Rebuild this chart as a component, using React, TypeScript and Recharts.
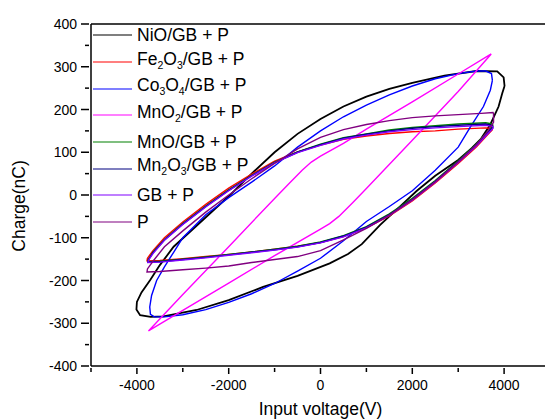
import React from "react";
import { LineChart, Line, XAxis, YAxis, ReferenceLine, Legend } from "recharts";

type Pt = [number, number];

// loops, [voltage (V), charge (nC)]
const nioLoop: Pt[] = [
  [4010, 255], [3990, 275], [3850, 289], [3400, 290], [2700, 279], [2000, 262],
  [1500, 248], [1000, 230], [500, 207], [0, 178], [-500, 143], [-1000, 100],
  [-1500, 50], [-2000, -3], [-2700, -72], [-3200, -121], [-3500, -164],
  [-3710, -199], [-3900, -228], [-4000, -250], [-4010, -268], [-3930, -281],
  [-3700, -285], [-3420, -284], [-2700, -269], [-2000, -246], [-1250, -215],
  [-500, -189], [200, -160], [600, -138], [900, -115], [1300, -70], [1700, -30],
  [2100, 10], [2500, 45], [3000, 82], [3300, 110], [3500, 132], [3700, 165],
  [3880, 207], [3960, 238], [4010, 255],
];

const fe2o3Loop: Pt[] = [
  [3740, 155], [3600, 157], [3000, 154], [2500, 150], [2000, 148], [1500, 144],
  [1000, 138], [500, 130], [0, 117], [-500, 101], [-1000, 79], [-1500, 49],
  [-2000, 16], [-2500, -22], [-3000, -63], [-3400, -100], [-3650, -130],
  [-3770, -148], [-3780, -154], [-3500, -153], [-3000, -149], [-2500, -144],
  [-2000, -139], [-1500, -133], [-1000, -127], [-500, -120], [0, -111],
  [500, -97], [1000, -77], [1500, -49], [2000, -14], [2500, 28], [3000, 74],
  [3400, 113], [3650, 142], [3740, 152], [3740, 155],
];

const co3o4Loop: Pt[] = [
  [3745, 268], [3725, 284], [3600, 290], [3400, 290], [3000, 284], [2500, 272],
  [2000, 255], [1500, 234], [1000, 210], [500, 183], [0, 150], [-500, 112],
  [-1000, 68], [-1500, 30], [-2000, -6], [-2500, -46], [-3000, -100],
  [-3200, -134], [-3400, -168], [-3570, -200], [-3680, -235], [-3720, -262],
  [-3705, -279], [-3620, -285], [-3400, -285], [-3000, -280], [-2500, -268],
  [-2000, -251], [-1500, -231], [-1000, -207], [-500, -178], [0, -148],
  [500, -107], [1000, -62], [1500, -27], [2000, 10], [2500, 58], [3000, 112],
  [3260, 158], [3550, 207], [3700, 245], [3745, 268],
];

const mno2Loop: Pt[] = [
  [3720, 330], [3000, 283], [2000, 218], [1000, 154], [500, 121], [0, 91],
  [-200, 77], [-400, 58], [-700, 25], [-1000, -8], [-2000, -121],
  [-3000, -233], [-3748, -318], [-3000, -270], [-2000, -206], [-1000, -142],
  [0, -80], [200, -67], [400, -50], [700, -18], [1000, 15], [2000, 128],
  [3000, 242], [3720, 330],
];

const mnoLoop: Pt[] = [
  [3750, 166], [3600, 169], [3000, 166], [2500, 162], [2000, 158], [1500, 152],
  [1000, 143], [500, 134], [0, 119], [-500, 101], [-1000, 77], [-1500, 46],
  [-2000, 12], [-2500, -26], [-3000, -67], [-3400, -104], [-3650, -134],
  [-3750, -151], [-3760, -156], [-3500, -155], [-3000, -150], [-2500, -145],
  [-2000, -139], [-1500, -133], [-1000, -127], [-500, -120], [0, -110],
  [500, -95], [1000, -74], [1500, -44], [2000, -8], [2500, 34], [3000, 80],
  [3400, 120], [3650, 150], [3750, 160], [3750, 166],
];

const mn2o3Loop: Pt[] = [
  [3750, 163], [3600, 166], [3000, 163], [2500, 160], [2000, 156], [1500, 150],
  [1000, 142], [500, 133], [0, 118], [-500, 100], [-1000, 76], [-1500, 45],
  [-2000, 11], [-2500, -27], [-3000, -68], [-3400, -105], [-3650, -135],
  [-3750, -152], [-3760, -157], [-3500, -156], [-3000, -151], [-2500, -146],
  [-2000, -140], [-1500, -134], [-1000, -128], [-500, -121], [0, -111],
  [500, -96], [1000, -75], [1500, -46], [2000, -10], [2500, 32], [3000, 78],
  [3400, 118], [3650, 147], [3750, 158], [3750, 163],
];

const gbLoop: Pt[] = [
  [3760, 160], [3600, 163], [3000, 160], [2500, 157], [2000, 153], [1500, 148],
  [1000, 140], [500, 131], [0, 116], [-500, 99], [-1000, 75], [-1500, 44],
  [-2000, 10], [-2500, -28], [-3000, -69], [-3400, -106], [-3650, -137],
  [-3750, -153], [-3760, -158], [-3500, -157], [-3000, -152], [-2500, -147],
  [-2000, -141], [-1500, -135], [-1000, -129], [-500, -122], [0, -112],
  [500, -98], [1000, -77], [1500, -48], [2000, -12], [2500, 30], [3000, 76],
  [3400, 115], [3650, 144], [3760, 156], [3760, 160],
];

const pLoop: Pt[] = [
  [3770, 193], [3500, 191], [3000, 188], [2500, 185], [2000, 181], [1500, 174],
  [1000, 165], [500, 153], [0, 135], [-500, 108], [-1000, 74], [-1500, 38],
  [-2000, 0], [-2500, -40], [-3000, -84], [-3400, -121], [-3650, -155],
  [-3770, -173], [-3780, -180], [-3500, -179], [-3000, -175], [-2500, -171],
  [-2000, -166], [-1500, -158], [-1000, -151], [-500, -144], [0, -130],
  [500, -105], [1000, -78], [1500, -47], [2000, -11], [2500, 31], [3000, 78],
  [3400, 118], [3650, 150], [3770, 170], [3770, 193],
];

const xTicks = [-5000, -4000, -3000, -2000, -1000, 0, 1000, 2000, 3000, 4000, 5000];
const xLabelled = [-4000, -2000, 0, 2000, 4000];
const yTicks = [
  -400, -350, -300, -250, -200, -150, -100, -50, 0,
  50, 100, 150, 200, 250, 300, 350, 400,
];
const yLabelled = [-400, -300, -200, -100, 0, 100, 200, 300, 400];

// legend text pieces: [text, isSubscript]
type Part = [string, boolean];

const series: { name: string; color: string; loop: Pt[]; parts: Part[] }[] = [
  { name: "NiO/GB + P", color: "#000000", loop: nioLoop, parts: [["NiO/GB + P", false]] },
  {
    name: "Fe2O3/GB + P", color: "#ff0000", loop: fe2o3Loop,
    parts: [["Fe", false], ["2", true], ["O", false], ["3", true], ["/GB + P", false]],
  },
  {
    name: "Co3O4/GB + P", color: "#0000ff", loop: co3o4Loop,
    parts: [["Co", false], ["3", true], ["O", false], ["4", true], ["/GB + P", false]],
  },
  {
    name: "MnO2/GB + P", color: "#ff00ff", loop: mno2Loop,
    parts: [["MnO", false], ["2", true], ["/GB + P", false]],
  },
  { name: "MnO/GB + P", color: "#008000", loop: mnoLoop, parts: [["MnO/GB + P", false]] },
  {
    name: "Mn2O3/GB + P", color: "#000080", loop: mn2o3Loop,
    parts: [["Mn", false], ["2", true], ["O", false], ["3", true], ["/GB + P", false]],
  },
  { name: "GB + P", color: "#8000ff", loop: gbLoop, parts: [["GB + P", false]] },
  { name: "P", color: "#800080", loop: pLoop, parts: [["P", false]] },
];

const FONT = "Arial, 'Liberation Sans', Helvetica, sans-serif";

const toRows = (loop: Pt[]) => loop.map(([v, q]) => ({ v, q }));

const XTick = (props: any) => {
  const { x, y, payload } = props;
  const major = xLabelled.includes(payload.value);
  return (
    <g>
      <line x1={x} x2={x} y1={y} y2={y + (major ? 6 : 4)} stroke="#000" strokeWidth={1.5} />
      {major && (
        <text x={x} y={y + 22} textAnchor="middle" fontSize={14} fontFamily={FONT} fill="#000">
          {payload.value}
        </text>
      )}
    </g>
  );
};

const YTick = (props: any) => {
  const { x, y, payload } = props;
  const major = yLabelled.includes(payload.value);
  return (
    <g>
      <line x1={x - (major ? 8 : 4)} x2={x} y1={y} y2={y} stroke="#000" strokeWidth={1.5} />
      {major && (
        <text x={x - 12} y={y + 5} textAnchor="end" fontSize={14} fontFamily={FONT} fill="#000">
          {payload.value}
        </text>
      )}
    </g>
  );
};

const YLabel = (props: any) => {
  const vb = props.viewBox || { x: 0, y: 24, width: 91, height: 342 };
  const cx = vb.x + 19;
  const cy = vb.y + vb.height / 2 + 11;
  return (
    <text
      x={cx}
      y={cy}
      transform={`rotate(-90 ${cx} ${cy})`}
      textAnchor="middle"
      dominantBaseline="central"
      fontSize={17.5}
      fontFamily={FONT}
      fill="#000"
    >
      Charge(nC)
    </text>
  );
};

const LegendBox = () => (
  <div style={{ fontFamily: FONT, fontSize: 17.5, color: "#000" }}>
    {series.map((s) => (
      <div
        key={s.name}
        style={{ display: "flex", alignItems: "center", height: 26.7, whiteSpace: "nowrap" }}
      >
        <svg width={39} height={4} style={{ marginRight: 5 }}>
          <line x1={0} x2={39} y1={2} y2={2} stroke={s.color} strokeWidth={1.2} />
        </svg>
        <span style={{ lineHeight: "17px" }}>
          {s.parts.map(([t, sub], i) =>
            sub ? (
              <span key={i} style={{ fontSize: 10.5, verticalAlign: -4 }}>
                {t}
              </span>
            ) : (
              <span key={i}>{t}</span>
            )
          )}
        </span>
      </div>
    ))}
  </div>
);

export default function App() {
  return (
    <div
      style={{
        position: "absolute",
        left: 0,
        top: 0,
        width: 545,
        height: 419,
        overflow: "hidden",
        background: "#fff",
      }}
    >
      <LineChart width={560} height={419} margin={{ top: 24, right: 10, bottom: 0, left: 0 }}>
        <XAxis
          type="number"
          dataKey="v"
          domain={[-5000, 5000]}
          ticks={xTicks}
          interval={0}
          tickSize={0}
          tickLine={false}
          tick={(p: any) => <XTick {...p} />}
          axisLine={{ stroke: "#000", strokeWidth: 1.5 }}
          height={53}
          allowDataOverflow
          label={{
            value: "Input voltage(V)",
            position: "insideBottom",
            offset: 4,
            fill: "#000",
            fontSize: 17.5,
            fontFamily: FONT,
          }}
        />
        <YAxis
          type="number"
          domain={[-400, 400]}
          ticks={yTicks}
          interval={0}
          tickSize={0}
          tickLine={false}
          tick={(p: any) => <YTick {...p} />}
          axisLine={{ stroke: "#000", strokeWidth: 1.5 }}
          width={91}
          allowDataOverflow
          label={(p: any) => <YLabel {...p} />}
        />
        <ReferenceLine y={400} stroke="#000" strokeWidth={1.5} />
        <ReferenceLine x={5000} stroke="#000" strokeWidth={1.5} />
        <Legend
          layout="vertical"
          align="center"
          verticalAlign="middle"
          content={() => <LegendBox />}
          wrapperStyle={{ left: 93, top: 22, width: "auto" }}
        />
        {series.map((s) => (
          <Line
            key={s.name}
            name={s.name}
            data={toRows(s.loop)}
            dataKey="q"
            type="linear"
            stroke={s.color}
            strokeWidth={s.color === "#000000" ? 1.8 : 1.4}
            dot={false}
            activeDot={false}
            isAnimationActive={false}
          />
        ))}
      </LineChart>
    </div>
  );
}
